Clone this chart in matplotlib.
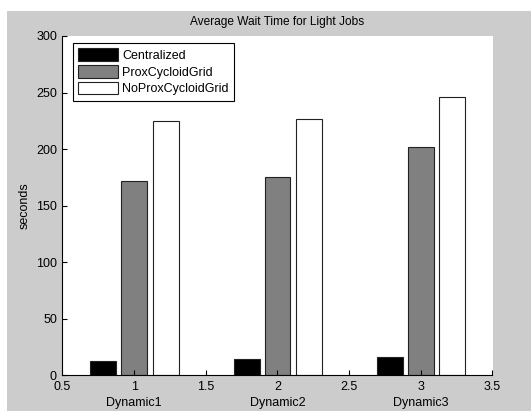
import numpy as np
import matplotlib
matplotlib.use('Agg')
import matplotlib.pyplot as plt
from matplotlib.patches import Rectangle

plt.rcParams['font.family'] = ['Liberation Sans', 'DejaVu Sans']

groups = [1, 2, 3]
group_names = ['Dynamic1', 'Dynamic2', 'Dynamic3']
series = ['Centralized', 'ProxCycloidGrid', 'NoProxCycloidGrid']
colors = ['black', '#808080', 'white']
centralized = [12.4, 14.1, 15.9]
prox = [172.2, 175.6, 201.5]
noprox = [224.7, 227.0, 246.2]
values = [centralized, prox, noprox]

W, H = 531, 413
fig = plt.figure(figsize=(W / 100, H / 100), dpi=100, facecolor='white')
# grey window area (screenshot has a white strip top/left)
fig.patches.append(Rectangle((7 / W, 2 / H), (W - 7) / W, 400 / H,
                             transform=fig.transFigure, facecolor='#cccccc',
                             edgecolor='none', zorder=-10))

ax = fig.add_axes([62.5 / W, 37.7 / H, 430 / W, 339.3 / H])
ax.set_facecolor('white')

x = np.array(groups, dtype=float)
offsets = [-0.215, 0.0, 0.22]
bw = 0.18
for vals, off, col, name in zip(values, offsets, colors, series):
    ax.bar(x + off, vals, width=bw, color=col, edgecolor='#222222',
           linewidth=0.8, label=name)

ax.set_xlim(0.5, 3.5)
ax.set_ylim(0, 300)
ax.set_xticks(np.arange(0.5, 3.51, 0.5))
ax.set_xticklabels(['0.5', '1', '1.5', '2', '2.5', '3', '3.5'])
ax.set_yticks(np.arange(0, 301, 50))
ax.tick_params(direction='in', length=3.5, width=0.8, labelsize=9,
               pad=4, colors='black')
for s in ['top', 'right']:
    ax.spines[s].set_visible(False)
for s in ['left', 'bottom']:
    ax.spines[s].set_linewidth(0.8)

ax.set_ylabel('seconds', fontsize=9, labelpad=4)
ax.set_title('Average Wait Time for Light Jobs', fontsize=8.6, pad=8)

for g, name in zip(groups, group_names):
    ax.text(g, -27.5 / 339.3 * 300, name, ha='center', va='center',
            fontsize=9, clip_on=False)

leg = ax.legend(loc='upper left', bbox_to_anchor=(72.7 / W, (H - 42.7) / H),
                bbox_transform=fig.transFigure, fontsize=9, frameon=True,
                fancybox=False, edgecolor='black', framealpha=1,
                handlelength=3.2, handleheight=1.2, labelspacing=0.24,
                handletextpad=0.32, borderpad=0.45, borderaxespad=0)
leg.get_frame().set_linewidth(0.8)

fig.savefig('out.png', dpi=100, facecolor=fig.get_facecolor())
